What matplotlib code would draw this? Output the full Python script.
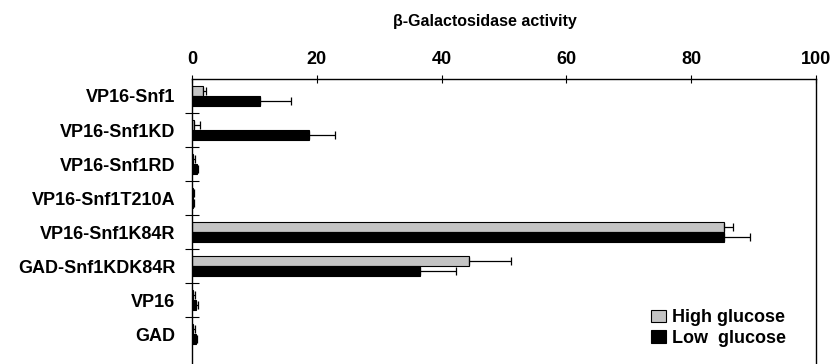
import matplotlib.pyplot as plt
import numpy as np

plt.rcParams["font.family"] = ["Liberation Sans", "DejaVu Sans"]

constructs = ["VP16-Snf1", "VP16-Snf1KD", "VP16-Snf1RD", "VP16-Snf1T210A",
              "VP16-Snf1K84R", "GAD-Snf1KDK84R", "VP16", "GAD"]
high_glucose = [1.7, 0.4, 0.2, 0.1, 85.3, 44.4, 0.2, 0.2]
high_err = [0.6, 0.9, 0.3, 0.3, 1.4, 6.7, 0.3, 0.3]
low_glucose = [10.9, 18.8, 0.8, 0.1, 85.3, 36.6, 0.7, 0.6]
low_err = [5.0, 4.2, 0.2, 0.3, 4.2, 5.7, 0.2, 0.2]
x_ticks = [0, 20, 40, 60, 80, 100]


def main() -> None:
    fig = plt.figure(figsize=(8.3, 3.64), dpi=100)
    ax = fig.add_axes([0.2313, 0.0, 0.7517, 0.783])

    y = np.arange(len(constructs))
    h = 0.3
    zeros = np.zeros(len(constructs))
    ax.barh(y - h / 2, high_glucose, height=h, color="#c4c4c4", edgecolor="black",
            linewidth=0.8, label="High glucose",
            xerr=[zeros, high_err], error_kw=dict(ecolor="black", elinewidth=0.9, capsize=3, capthick=0.9))
    ax.barh(y + h / 2, low_glucose, height=h, color="black", edgecolor="black",
            linewidth=0.8, label="Low  glucose",
            xerr=[zeros, low_err], error_kw=dict(ecolor="black", elinewidth=0.9, capsize=3, capthick=0.9))

    ax.set_xlim(0, 100)
    ax.set_ylim(7.88, -0.5)
    ax.xaxis.tick_top()
    ax.set_xticks(x_ticks)
    ax.set_xticklabels([str(t) for t in x_ticks], fontsize=13, fontweight="bold")
    ax.tick_params(axis="x", direction="inout", length=6, width=0.8, pad=5)

    ax.set_yticks(y)
    ax.set_yticklabels(constructs, fontsize=13, fontweight="bold")
    ax.tick_params(axis="y", length=0, pad=12)
    ax.set_yticks(np.arange(0.5, len(constructs) - 0.5, 1.0), minor=True)
    ax.tick_params(axis="y", which="minor", direction="inout", length=10, width=0.8)

    ax.spines["bottom"].set_visible(False)
    for side in ["top", "left", "right"]:
        ax.spines[side].set_linewidth(1.0)

    fig.text(0.584, 0.942, "β-Galactosidase activity", ha="center", va="center",
             fontsize=11.5, fontweight="bold")

    ax.legend(loc="lower right", bbox_to_anchor=(0.963, 0.035), frameon=False,
              prop={"size": 13, "weight": "bold"}, handlelength=0.85, handleheight=0.7,
              handletextpad=0.3, labelspacing=0.2, borderaxespad=0)

    fig.savefig("out.png", dpi=100)


if __name__ == "__main__":
    main()
